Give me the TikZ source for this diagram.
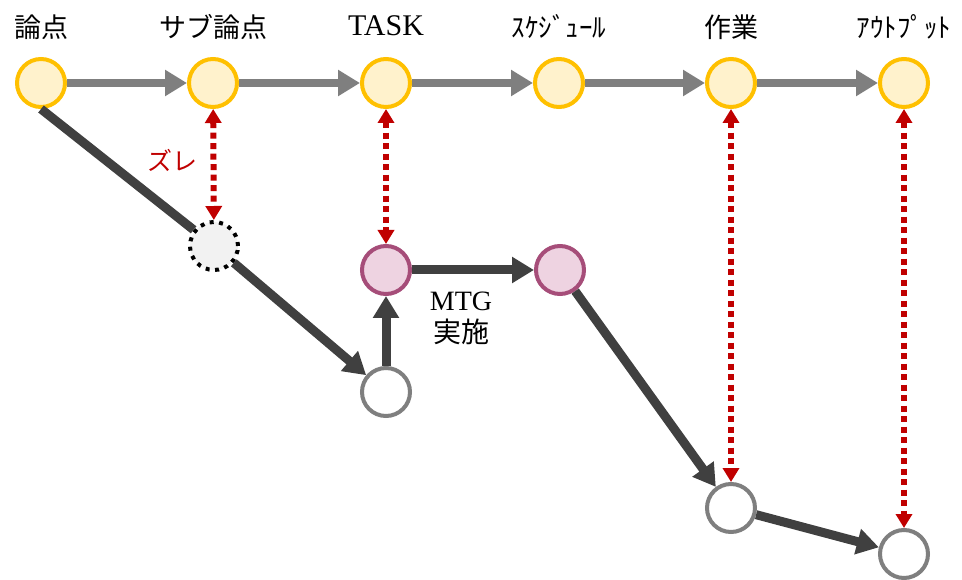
\documentclass[tikz,border=0pt]{standalone}
\usepackage{fontspec}
\setmainfont{Liberation Serif}
\newfontfamily\jpfont{Noto Sans CJK JP}
\usetikzlibrary{arrows.meta}

\definecolor{planedge}{HTML}{FFC000}
\definecolor{planfill}{HTML}{FFF2CC}
\definecolor{mtgedge}{HTML}{A64D79}
\definecolor{mtgfill}{HTML}{EED3E1}
\definecolor{flowgrey}{HTML}{7F7F7F}
\definecolor{flowdark}{HTML}{404040}
\definecolor{gapred}{HTML}{C00000}

\begin{document}
\begin{tikzpicture}[x=1pt,y=-1pt,
    plan/.style={circle,draw=planedge,fill=planfill,line width=4pt,minimum size=48pt,inner sep=0pt},
    mtg/.style={circle,draw=mtgedge,fill=mtgfill,line width=4pt,minimum size=48pt,inner sep=0pt},
    done/.style={circle,draw=flowgrey,fill=white,line width=4pt,minimum size=48pt,inner sep=0pt},
    miss/.style={circle,draw=black,fill=black!5,line width=4pt,dash pattern=on 4pt off 5.5pt,minimum size=48pt,inner sep=0pt},
    planarrow/.style={draw=flowgrey,line width=8.5pt,-{Triangle[length=22pt,width=25pt]}},
    realarrow/.style={draw=flowdark,line width=9pt,-{Triangle[length=22pt,width=25pt]}},
    gaparrow/.style={draw=gapred,line width=6pt,dash pattern=on 6pt off 4.5pt,{Triangle[length=14pt,width=16pt]}-{Triangle[length=14pt,width=16pt]}},
    toplabel/.style={inner sep=0pt,font=\fontsize{27}{27}\selectfont}]
    \useasboundingbox (0,0) rectangle (962,580);

    % planned steps
    \foreach \name/\x in {ronten/41,sub/213,task/386,sched/559,work/731,out/904}{
    \node[plan] (\name) at (\x,83) {};
    }
    \node[toplabel] (ronten-label) at (41,27) {\jpfont 論点};
    \node[toplabel] (sub-label) at (213,27) {\jpfont サブ論点};
    \node[toplabel,font=\fontsize{30}{30}\selectfont] (task-label) at (386,26) {TASK};
    \node[toplabel] (sched-label) at (559,27) {\jpfont ｽｹｼﾞｭｰﾙ};
    \node[toplabel] (work-label) at (731,27) {\jpfont 作業};
    \node[toplabel] (out-label) at (904,27) {\jpfont ｱｳﾄﾌﾟｯﾄ};
    \foreach \a/\b in {ronten/sub,sub/task,task/sched,sched/work,work/out}{
    \draw[planarrow] (\a) -- (\b);
    }

    % what really happened
    \node[miss] (gap) at (214,246) {};
    \node[mtg] (mtgA) at (386,270) {};
    \node[mtg] (mtgB) at (560,270) {};
    \node[done] (redo) at (386,392) {};
    \node[done] (workB) at (731,508) {};
    \node[done] (outB) at (904,554) {};

    \draw[realarrow,-] (ronten.south) -- (gap);
    \foreach \a/\b in {gap/redo,redo/mtgA,mtgA/mtgB,mtgB/workB,workB/outB}{
    \draw[realarrow] (\a) -- (\b);
    }
    \node[inner sep=0pt,align=center,font=\fontsize{28}{32}\selectfont] (mtg-label) at (461,318) {MTG\\\jpfont 実施};

    % gaps between plan and reality
    \foreach \a/\b in {sub/gap,task/mtgA,work/workB,out/outB}{
    \draw[gaparrow] (\a) -- (\b);
    }
    \node[inner sep=0pt,text=gapred,font=\fontsize{25}{25}\selectfont] (gap-label) at (172,160) {\jpfont ズレ};
\end{tikzpicture}
\end{document}
